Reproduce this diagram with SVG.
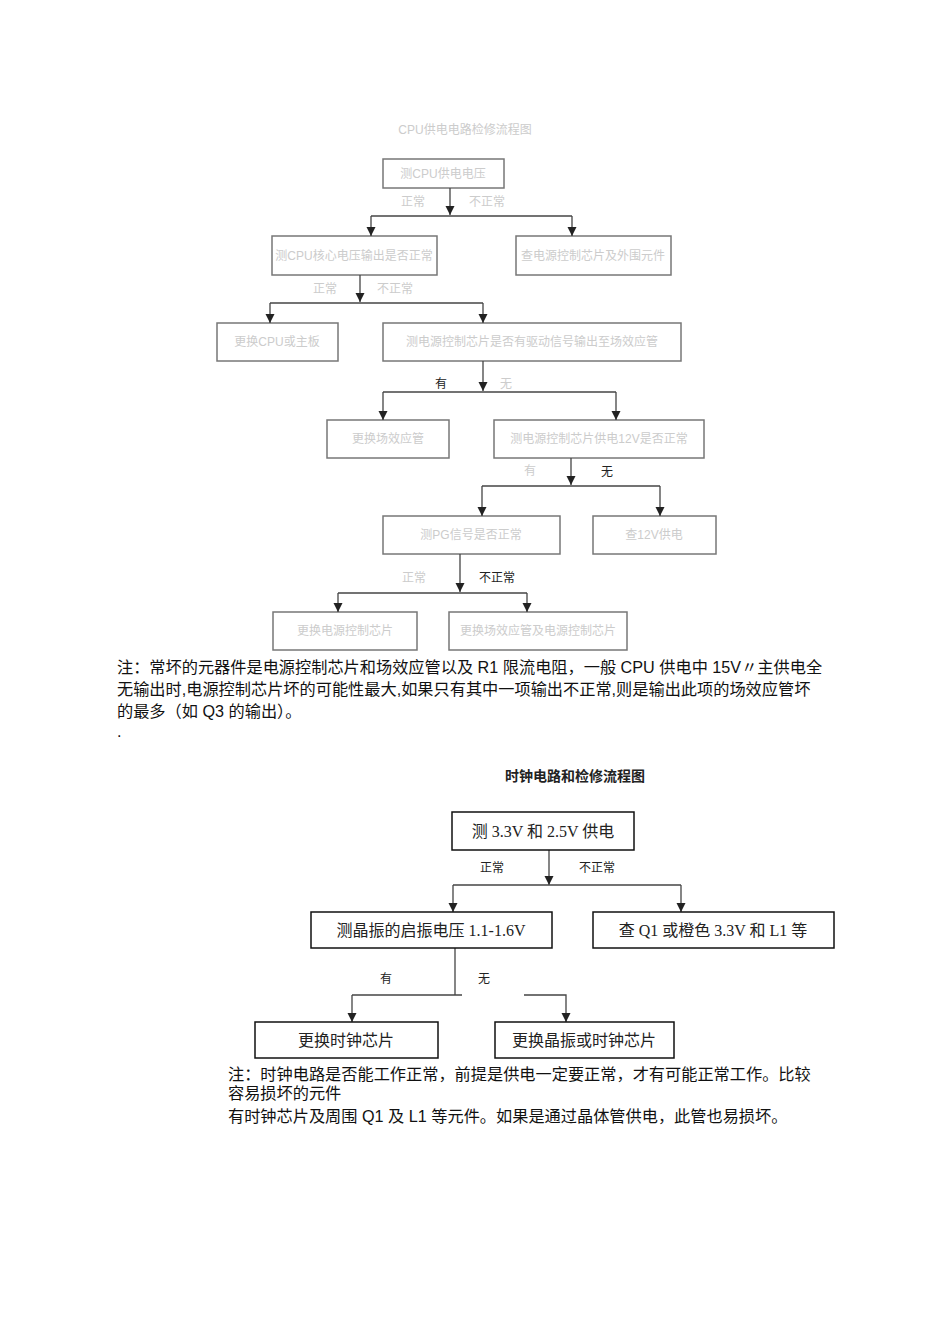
<svg xmlns="http://www.w3.org/2000/svg" width="950" height="1318" viewBox="0 0 950 1318">
<style>
.b1{fill:#fff;stroke:#777;stroke-width:1.5}
.b2{fill:#fff;stroke:#111;stroke-width:1.5}
.f{font-family:"Liberation Sans","Noto Sans CJK SC",sans-serif;font-size:12px;fill:#ccc;text-anchor:middle}
.l{font-family:"Liberation Serif","Noto Sans CJK SC",serif;font-size:12px;fill:#222;text-anchor:middle}
.s{font-family:"Liberation Serif","Noto Sans CJK SC",serif;font-size:16px;fill:#222;text-anchor:middle}
.n{font-family:"Liberation Sans","Noto Sans CJK SC",sans-serif;font-size:16.2px;fill:#111}
.c{fill:none;stroke:#444;stroke-width:1.3}
</style>
<defs><marker id="a" markerWidth="10" markerHeight="10" refX="9" refY="4.5" orient="auto" markerUnits="userSpaceOnUse"><path d="M0,0 L9,4.5 L0,9 z" fill="#222"/></marker></defs>
<rect width="950" height="1318" fill="#fff"/>
<text class="f" x="465" y="134">CPU供电电路检修流程图</text>
<g id="n1"><rect class="b1" x="383" y="159" width="121" height="29"/><text class="f" x="443" y="178">测CPU供电电压</text></g>
<g id="n2"><rect class="b1" x="272" y="236" width="165" height="39"/><text class="f" x="354" y="260">测CPU核心电压输出是否正常</text></g>
<g id="n3"><rect class="b1" x="516" y="236" width="155" height="39"/><text class="f" x="593" y="260">查电源控制芯片及外围元件</text></g>
<g id="n4"><rect class="b1" x="217" y="323" width="121" height="38"/><text class="f" x="277" y="346">更换CPU或主板</text></g>
<g id="n5"><rect class="b1" x="383" y="323" width="298" height="38"/><text class="f" x="532" y="346">测电源控制芯片是否有驱动信号输出至场效应管</text></g>
<g id="n6"><rect class="b1" x="327" y="420" width="122" height="38"/><text class="f" x="388" y="443">更换场效应管</text></g>
<g id="n7"><rect class="b1" x="494" y="420" width="210" height="38"/><text class="f" x="599" y="443">测电源控制芯片供电12V是否正常</text></g>
<g id="n8"><rect class="b1" x="383" y="516" width="177" height="38"/><text class="f" x="471" y="539">测PG信号是否正常</text></g>
<g id="n9"><rect class="b1" x="593" y="516" width="123" height="38"/><text class="f" x="654" y="539">查12V供电</text></g>
<g id="n10"><rect class="b1" x="273" y="612" width="144" height="38"/><text class="f" x="345" y="635">更换电源控制芯片</text></g>
<g id="n11"><rect class="b1" x="449" y="612" width="178" height="38"/><text class="f" x="538" y="635">更换场效应管及电源控制芯片</text></g>
<g id="connectors">
<path class="c" d="M450,188V215" marker-end="url(#a)"/><path class="c" d="M371,216H572"/><path class="c" d="M371,216V236" marker-end="url(#a)"/><path class="c" d="M572,216V236" marker-end="url(#a)"/>
<path class="c" d="M360,275V302" marker-end="url(#a)"/><path class="c" d="M270,303H483"/><path class="c" d="M270,303V323" marker-end="url(#a)"/><path class="c" d="M483,303V323" marker-end="url(#a)"/>
<path class="c" d="M483,361V391" marker-end="url(#a)"/><path class="c" d="M383,392H616"/><path class="c" d="M383,392V420" marker-end="url(#a)"/><path class="c" d="M616,392V420" marker-end="url(#a)"/>
<path class="c" d="M571,458V485" marker-end="url(#a)"/><path class="c" d="M482,486H660"/><path class="c" d="M482,486V516" marker-end="url(#a)"/><path class="c" d="M660,486V516" marker-end="url(#a)"/>
<path class="c" d="M460,554V592" marker-end="url(#a)"/><path class="c" d="M338,593H527"/><path class="c" d="M338,593V612" marker-end="url(#a)"/><path class="c" d="M527,593V612" marker-end="url(#a)"/>
<path class="c" d="M549,850V885" marker-end="url(#a)" stroke-width="2"/><path class="c" d="M453,885H681"/><path class="c" d="M453,885V912" marker-end="url(#a)"/><path class="c" d="M681,885V912" marker-end="url(#a)"/>
<path class="c" d="M455,948V995"/><path class="c" d="M352,995H462"/><path class="c" d="M352,995V1022" marker-end="url(#a)"/><path class="c" d="M524,995H566V1022" marker-end="url(#a)"/>
</g>
<text class="f" x="413" y="206">正常</text><text class="f" x="487" y="206">不正常</text>
<text class="f" x="325" y="293">正常</text><text class="f" x="395" y="293">不正常</text>
<text class="l" x="441" y="388">有</text><text class="f" x="506" y="388">无</text>
<text class="f" x="530" y="475">有</text><text class="l" x="607" y="476">无</text>
<text class="f" x="414" y="582">正常</text><text class="l" x="497" y="582">不正常</text>
<text class="n" x="117" y="673">注：常坏的元器件是电源控制芯片和场效应管以及 R1 限流电阻，一般 CPU 供电中 15V〃主供电全</text>
<text class="n" x="117" y="695">无输出时,电源控制芯片坏的可能性最大,如果只有其中一项输出不正常,则是输出此项的场效应管坏</text>
<text class="n" x="117" y="717">的最多（如 Q3 的输出）。</text>
<text class="n" x="117" y="737" font-size="8">.</text>
<text x="575" y="781" font-family="'Noto Sans CJK SC',sans-serif" font-size="14" font-weight="bold" text-anchor="middle" fill="#222">时钟电路和检修流程图</text>
<g id="m1"><rect class="b2" x="452" y="812" width="182" height="38"/><text class="s" x="543" y="837">测 3.3V 和 2.5V 供电</text></g>
<g id="m2"><rect class="b2" x="311" y="912" width="241" height="36"/><text class="s" x="431" y="936">测晶振的启振电压 1.1-1.6V</text></g>
<g id="m3"><rect class="b2" x="593" y="912" width="241" height="36"/><text class="s" x="713" y="936">查 Q1 或橙色 3.3V 和 L1 等</text></g>
<g id="m4"><rect class="b2" x="255" y="1022" width="183" height="36"/><text class="s" x="346" y="1046">更换时钟芯片</text></g>
<g id="m5"><rect class="b2" x="495" y="1022" width="179" height="36"/><text class="s" x="584" y="1046">更换晶振或时钟芯片</text></g>
<text class="l" x="492" y="872" font-size="13">正常</text><text class="l" x="597" y="872" font-size="13">不正常</text>
<text class="l" x="386" y="983" font-size="13">有</text><text class="l" x="484" y="983" font-size="13">无</text>
<text class="n" x="228" y="1080" font-size="16.5">注：时钟电路是否能工作正常，前提是供电一定要正常，才有可能正常工作。比较</text>
<text class="n" x="228" y="1099" font-size="16.5">容易损坏的元件</text>
<text class="n" x="228" y="1122" font-size="16.5">有时钟芯片及周围 Q1 及 L1 等元件。如果是通过晶体管供电，此管也易损坏。</text>
</svg>
